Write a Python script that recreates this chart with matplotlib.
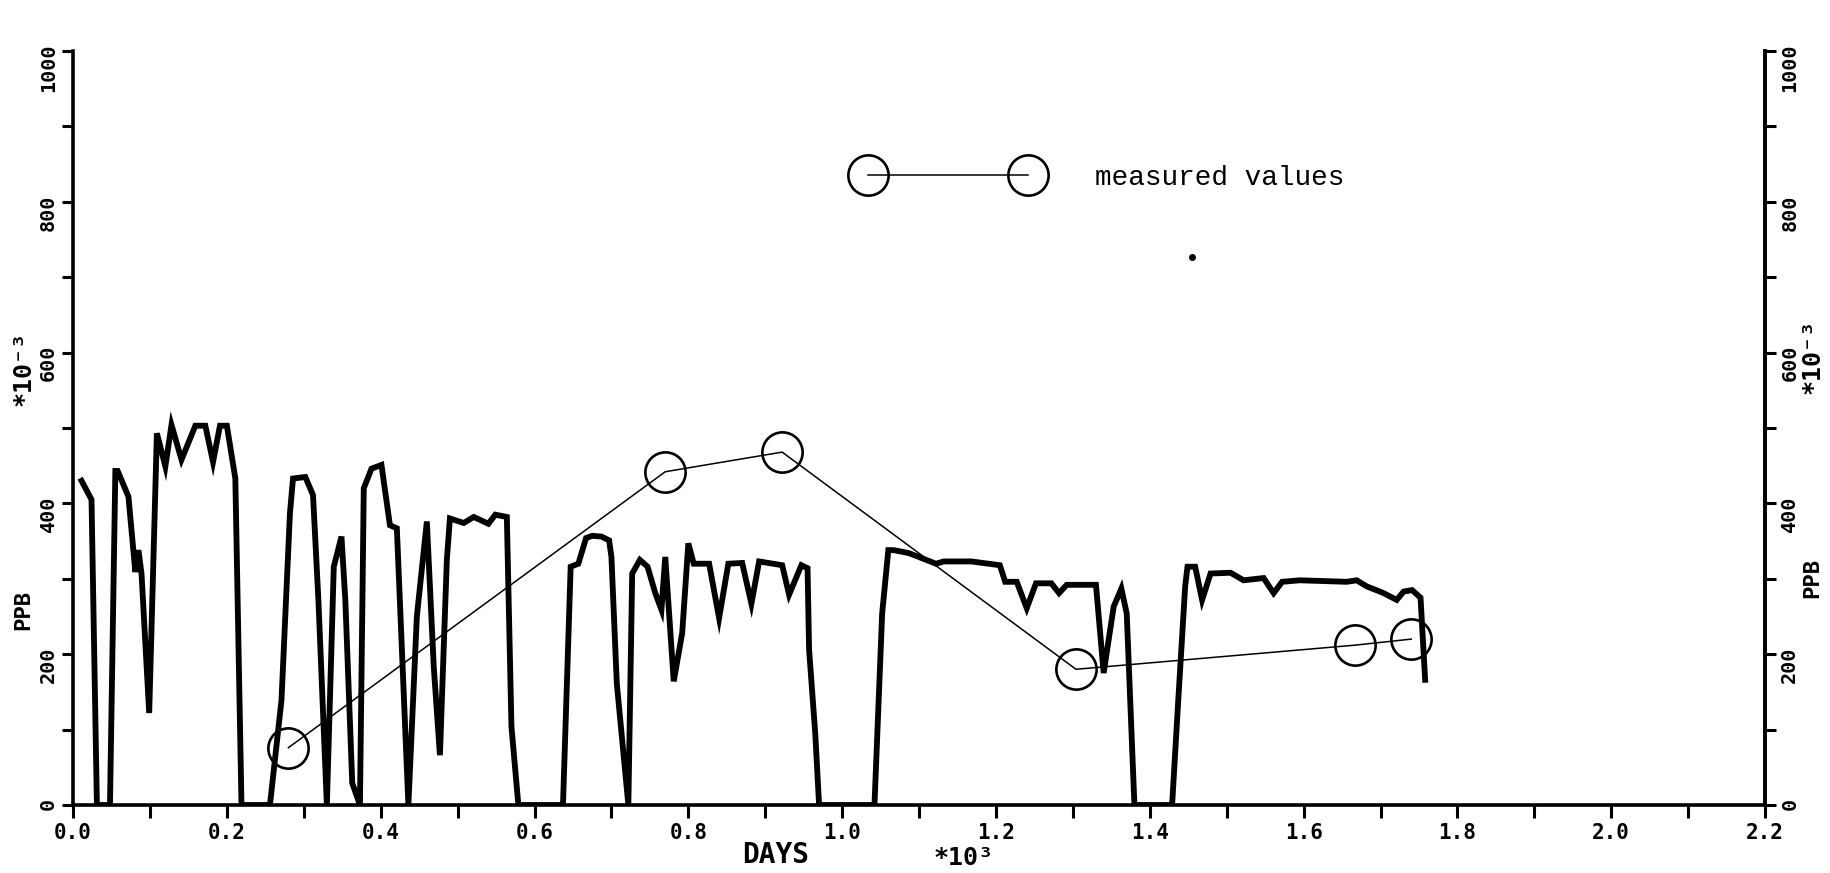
import numpy as np
import matplotlib.pyplot as plt
from matplotlib.ticker import MultipleLocator, FixedLocator

plt.rcParams['font.family'] = ['DejaVu Sans Mono', 'DejaVu Sans']
plt.rcParams['font.weight'] = 'bold'

# model trace: days (*10^3) and PPB (*10^-3)
model_days = [0.011, 0.024, 0.031, 0.048, 0.055, 0.058, 0.072, 0.081, 0.085, 0.089,
              0.099, 0.109, 0.120, 0.128, 0.141, 0.159, 0.172, 0.182, 0.191, 0.200,
              0.211, 0.219, 0.256, 0.271, 0.282, 0.286, 0.302, 0.312, 0.319, 0.330,
              0.339, 0.349, 0.354, 0.363, 0.373, 0.378, 0.388, 0.401, 0.412, 0.421,
              0.436, 0.447, 0.460, 0.469, 0.477, 0.486, 0.490, 0.508, 0.521, 0.540,
              0.549, 0.564, 0.570, 0.579, 0.637, 0.647, 0.657, 0.667, 0.675, 0.687,
              0.697, 0.700, 0.707, 0.722, 0.727, 0.737, 0.747, 0.757, 0.765, 0.770,
              0.781, 0.792, 0.800, 0.807, 0.827, 0.840, 0.852, 0.870, 0.882, 0.892,
              0.922, 0.931, 0.947, 0.955, 0.957, 0.965, 0.970, 1.042, 1.052, 1.060,
              1.067, 1.087, 1.122, 1.132, 1.168, 1.205, 1.212, 1.227, 1.240, 1.252,
              1.272, 1.282, 1.292, 1.330, 1.340, 1.353, 1.363, 1.370, 1.380, 1.429,
              1.437, 1.446, 1.449, 1.459, 1.468, 1.479, 1.505, 1.522, 1.548, 1.561,
              1.572, 1.595, 1.656, 1.669, 1.682, 1.704, 1.721, 1.730, 1.741, 1.752,
              1.758]
model_ppb = [430, 405, 0, 0, 443, 443, 409, 309, 338, 307,
             122, 493, 449, 504, 458, 503, 503, 455, 503, 503,
             433, 0, 0, 139, 387, 433, 435, 411, 272, 0,
             316, 356, 272, 29, 0, 420, 446, 451, 371, 367,
             0, 250, 376, 183, 66, 325, 380, 374, 382, 373,
             385, 382, 104, 0, 0, 316, 320, 354, 357, 356,
             351, 329, 161, 0, 307, 325, 316, 281, 259, 329,
             164, 228, 347, 320, 320, 248, 320, 321, 267, 323,
             318, 279, 318, 314, 206, 95, 0, 0, 254, 338,
             338, 334, 320, 323, 323, 318, 296, 296, 261, 294,
             294, 281, 292, 292, 175, 263, 287, 254, 0, 0,
             139, 290, 316, 316, 272, 307, 308, 298, 301, 281,
             296, 298, 296, 298, 290, 281, 272, 283, 285, 275,
             166]

# measured values
meas_days = [0.280, 0.770, 0.922, 1.304, 1.667, 1.740]
meas_ppb = [76, 442, 468, 180, 212, 220]

stray_days = [1.455]
stray_ppb = [727]

x_ticks = [0.0, 0.2, 0.4, 0.6, 0.8, 1.0, 1.2, 1.4, 1.6, 1.8, 2.0, 2.2]
x_labels = ["0.0", "0.2", "0.4", "0.6", "0.8", "1.0", "1.2", "1.4", "1.6", "1.8", "2.0", "2.2"]
y_ticks = [0, 200, 400, 600, 800, 1000]
y_labels = ["0", "200", "400", "600", "800", "1000"]

fig = plt.figure(figsize=(18.31, 8.73), dpi=100)
ax = fig.add_axes([0.0399, 0.0779, 0.9241, 0.8637])

ax.plot(model_days, model_ppb, color='black', lw=4.2, solid_joinstyle='miter')
ax.plot(meas_days, meas_ppb, color='black', lw=1.1, marker='o', markersize=29,
        markerfacecolor='none', markeredgewidth=1.9, label='measured values')
ax.plot(stray_days, stray_ppb, 'o', color='black', markersize=4)

ax.set_xlim(0, 2.2)
ax.set_ylim(0, 1000)

ax.xaxis.set_major_locator(FixedLocator(x_ticks))
ax.set_xticklabels(x_labels)
ax.xaxis.set_minor_locator(MultipleLocator(0.1))
ax.yaxis.set_major_locator(FixedLocator(y_ticks))
ax.set_yticklabels(y_labels)
ax.yaxis.set_minor_locator(MultipleLocator(100))

ax.tick_params(axis='x', which='both', direction='out', length=9, width=2.2,
               labelsize=15, pad=4)
ax.tick_params(axis='y', which='both', direction='out', length=8, width=2.2,
               labelsize=14.5, labelrotation=90, pad=3)

for s in ['left', 'bottom', 'right']:
    ax.spines[s].set_linewidth(2.6)
ax.spines['top'].set_visible(False)

ax2 = ax.twinx()
ax2.set_ylim(0, 1000)
ax2.yaxis.set_major_locator(FixedLocator(y_ticks))
ax2.set_yticklabels(y_labels)
ax2.yaxis.set_minor_locator(MultipleLocator(100))
ax2.tick_params(axis='y', which='both', direction='out', length=8, width=2.2,
                labelsize=14.5, labelrotation=90, pad=3)
ax2.spines['top'].set_visible(False)
ax2.spines['right'].set_linewidth(2.6)

ax.legend(loc='center left', bbox_to_anchor=(0.4646, 0.832), numpoints=2,
          frameon=False, borderpad=0, borderaxespad=0, markerscale=1,
          handlelength=6.36, handletextpad=2.12,
          prop={'family': 'Liberation Mono', 'size': 20, 'weight': 'normal'})

# axis titles
fig.text(23 / 1831, 1 - 610 / 873, 'PPB', rotation=90, ha='center', va='center', fontsize=16)
fig.text(23 / 1831, 1 - 368 / 873, '*10⁻³', rotation=90, ha='center', va='center', fontsize=18)
fig.text(1812 / 1831, 1 - 578 / 873, 'PPB', rotation=90, ha='center', va='center', fontsize=16)
fig.text(1812 / 1831, 1 - 356 / 873, '*10⁻³', rotation=90, ha='center', va='center', fontsize=18)
fig.text(776 / 1831, 1 - 855 / 873, 'DAYS', ha='center', va='center', fontsize=20)
fig.text(963 / 1831, 1 - 858 / 873, '*10³', ha='center', va='center', fontsize=18)

fig.savefig('out.png', dpi=100)
